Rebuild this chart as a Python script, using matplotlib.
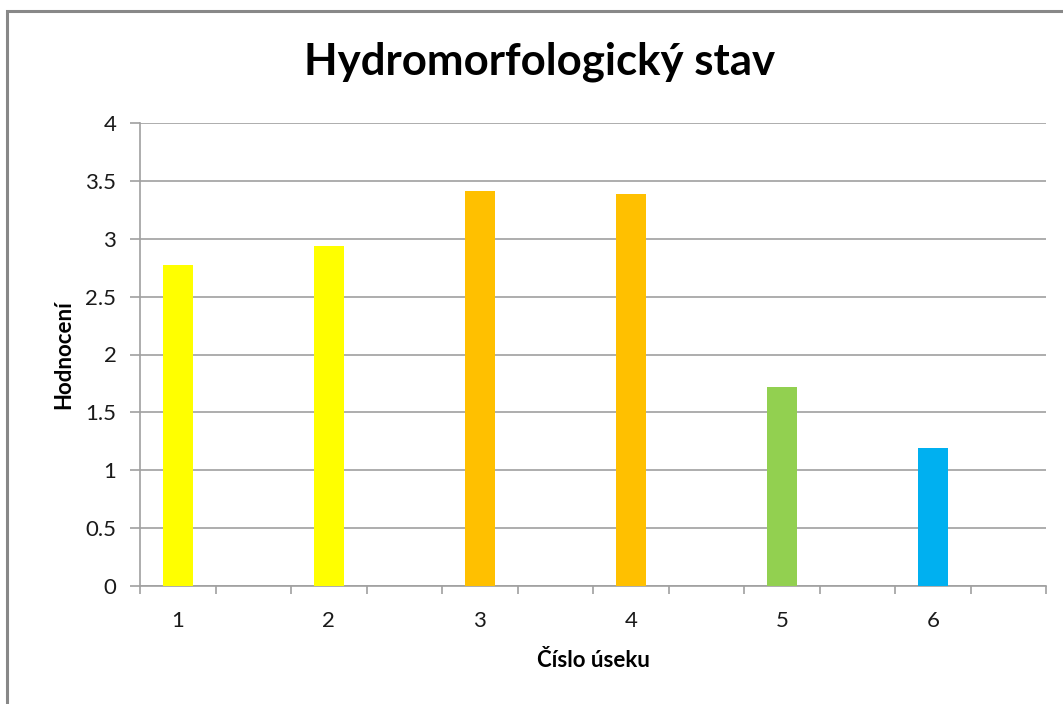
import matplotlib
matplotlib.use("Agg")
import matplotlib.pyplot as plt
from matplotlib.patches import Rectangle
import numpy as np

# data
sections = ["1", "2", "3", "4", "5", "6"]
scores = [2.77, 2.94, 3.41, 3.39, 1.72, 1.19]
bar_colors = ["#FFFF00", "#FFFF00", "#FFC000", "#FFC000", "#92D050", "#00B0F0"]

plt.rcParams["font.family"] = ["Lato", "DejaVu Sans"]

fig = plt.figure(figsize=(10.63, 7.04), dpi=100)
ax = fig.add_axes([140 / 1063, 1 - 586 / 704, (1046 - 140) / 1063, (586 - 123) / 704])

# every section takes one slot, followed by an empty slot (Excel category axis)
n_slots = 2 * len(sections)
pos = np.arange(len(sections)) * 2 + 0.5
ax.bar(pos, scores, width=0.4, color=bar_colors, zorder=3)

ax.set_xlim(0, n_slots)
ax.set_ylim(0, 4)
ax.set_yticks(np.arange(0, 4.01, 0.5))
ax.set_yticklabels(["0", "0.5", "1", "1.5", "2", "2.5", "3", "3.5", "4"])
ax.set_xticks(np.arange(0, n_slots + 1))
ax.set_xticklabels([])
ax.set_xticks(pos, minor=True)
ax.set_xticklabels(sections, minor=True)

grid_col = "#A0A0A0"
ax.yaxis.grid(True, color=grid_col, linewidth=1.2, zorder=0)
for s in ["top", "right"]:
    ax.spines[s].set_visible(False)
for s in ["left", "bottom"]:
    ax.spines[s].set_color(grid_col)
    ax.spines[s].set_linewidth(1.2)

ax.tick_params(axis="y", which="major", length=7, width=1.2, color=grid_col,
               labelsize=16, labelcolor="#1a1a1a", pad=10)
ax.tick_params(axis="x", which="major", length=6, width=1.2, color=grid_col)
ax.tick_params(axis="x", which="minor", length=0, labelsize=16,
               labelcolor="#1a1a1a", pad=18)

ax.set_xlabel("Číslo úseku", fontsize=16, fontweight="bold", labelpad=14)
ax.set_ylabel("Hodnocení", fontsize=16, fontweight="bold", labelpad=8)

fig.text(0.508, 1 - 62 / 704, "Hydromorfologický stav", fontsize=31.5,
         fontweight="bold", ha="center", va="center")

# chart frame, only left and top edges fall inside the picture
fig.patches.append(Rectangle((7 / 1063, -0.1), 1.2, 1 - 11 / 704 + 0.1,
                             transform=fig.transFigure, fill=False,
                             edgecolor="#888888", linewidth=2.2))

fig.savefig("out.png", dpi=100)
